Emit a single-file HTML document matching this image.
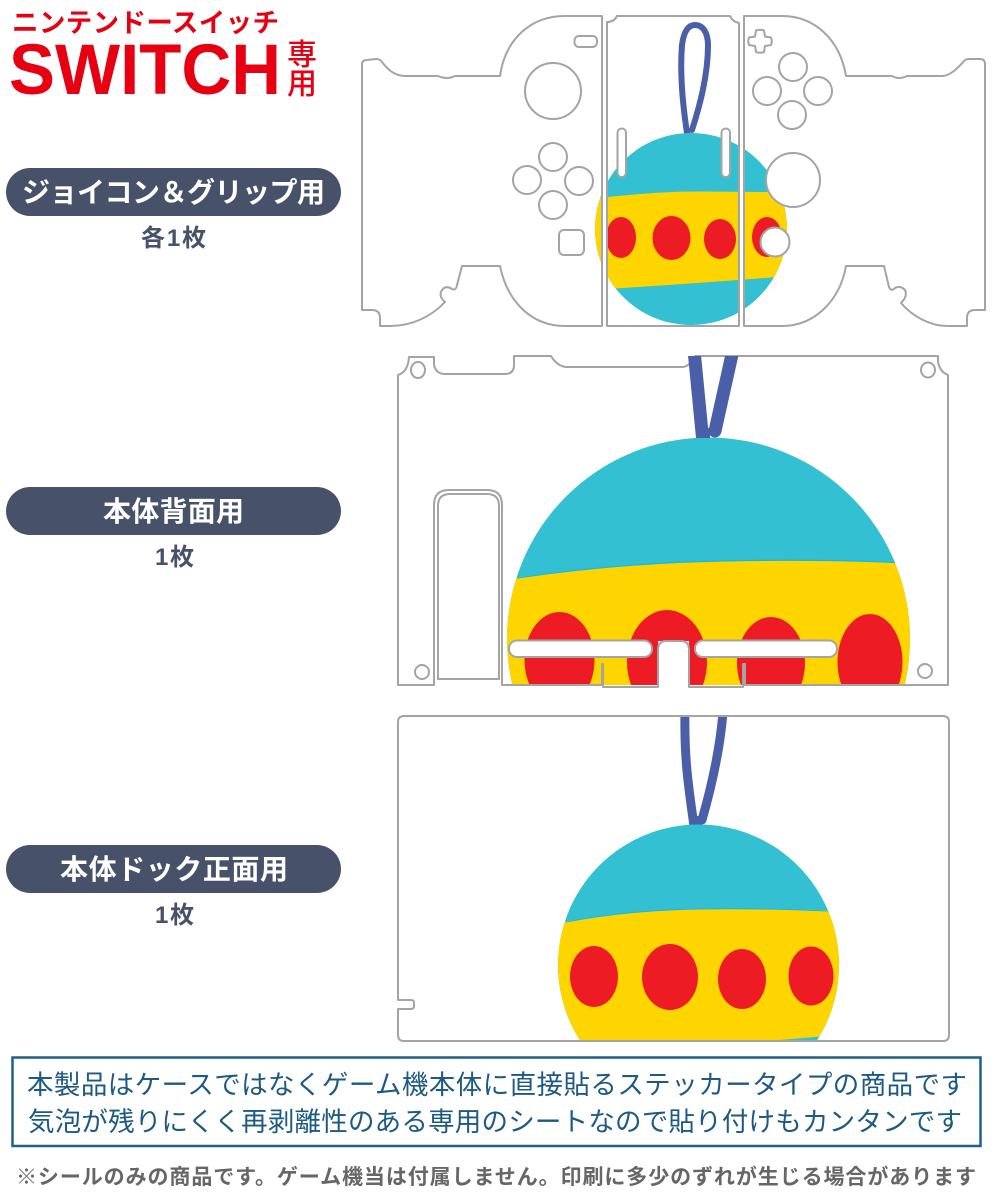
<!DOCTYPE html>
<html><head><meta charset="utf-8">
<style>
html,body{margin:0;padding:0;background:#fff;}
svg{display:block;}
text{font-family:"Liberation Sans","Noto Sans CJK JP",sans-serif;}
.o{fill:none;stroke:#a4a4a4;stroke-width:2;stroke-linejoin:round;}
.w{fill:#fff;stroke:#a4a4a4;stroke-width:2;}
.g{fill:none;stroke:#a4a4a4;stroke-width:2;}
.p{fill:#fff;font-weight:700;font-size:28px;}
.s{fill:#47526a;font-weight:700;font-size:24px;}
.b{fill:#1c5a84;font-size:26.5px;font-weight:400;}
</style></head>
<body>
<svg width="1000" height="1200" viewBox="0 0 1000 1200" xmlns="http://www.w3.org/2000/svg">
<defs>
<clipPath id="c1"><circle cx="691" cy="229" r="96"/></clipPath>
<clipPath id="c2"><path d="M400,356H948V685H400Z"/></clipPath>
<clipPath id="c2b"><circle cx="708.5" cy="639" r="201.5"/></clipPath>
<clipPath id="c3"><path d="M400,716H948V1041H400Z"/></clipPath>
<clipPath id="c3b"><circle cx="698.5" cy="965" r="140.5"/></clipPath>
</defs>
<rect width="1000" height="1200" fill="#fff"/>

<!-- header -->
<text x="12" y="32" font-size="26.500" font-weight="700" fill="#e60012" textLength="267" lengthAdjust="spacing">ニンテンドースイッチ</text>
<text x="9" y="94" font-size="71" font-weight="700" fill="#e60012" textLength="272" lengthAdjust="spacingAndGlyphs">SWITCH</text>
<text x="287" y="65" font-size="30" font-weight="500" fill="#e60012">専</text>
<text x="287" y="94" font-size="30" font-weight="500" fill="#e60012">用</text>

<!-- pills -->
<rect x="6" y="168" width="335" height="48" rx="24" fill="#47526a"/>
<text class="p" x="22" y="202" textLength="303" lengthAdjust="spacing">ジョイコン＆グリップ用</text>
<text class="s" x="141" y="246" textLength="65" lengthAdjust="spacing">各1枚</text>
<rect x="6" y="487" width="335" height="48" rx="24" fill="#47526a"/>
<text class="p" x="103" y="521" textLength="141" lengthAdjust="spacing">本体背面用</text>
<text class="s" x="155" y="565" textLength="39" lengthAdjust="spacing">1枚</text>
<rect x="6" y="845" width="335" height="48" rx="24" fill="#47526a"/>
<text class="p" x="60" y="879" textLength="228" lengthAdjust="spacing">本体ドック正面用</text>
<text class="s" x="155" y="923" textLength="39" lengthAdjust="spacing">1枚</text>

<!-- PANEL 1: joycon & grip -->
<path d="M687,133C682,100 680,70 682,45C684,30 689,25 695,25C703,25 708,33 708,45C708,75 700,105 692,130" fill="none" stroke="#4a5fa8" stroke-width="6" stroke-linecap="round"/>
<g clip-path="url(#c1)">
<rect x="590" y="130" width="200" height="200" fill="#33c0d2"/>
<path d="M590,199Q660,191 700,191.500T790,192V276Q690,284 590,290Z" fill="#ffd500"/>
<ellipse cx="621" cy="237.500" rx="15" ry="20.500" fill="#ed1c24"/>
<ellipse cx="671.500" cy="238" rx="19" ry="22" fill="#ed1c24"/>
<ellipse cx="720" cy="239" rx="16" ry="20" fill="#ed1c24"/>
<ellipse cx="767" cy="237" rx="15" ry="20" fill="#ed1c24"/>
</g>
<rect x="603" y="130" width="4" height="200" fill="#fff"/>
<rect x="740" y="130" width="4" height="200" fill="#fff"/>
<path class="o" d="M362,64Q362,60 367,60L376,59Q380,59 382,62C388,70 395,76 405,76L438,76Q447,80 455,76L500,76C505,40 530,16 565,16L602,16L602,326L565,326C530,326 507,300 500,266L462,266L457,285Q456,291 452,289Q446,285 442,290Q438,296 445,302C430,318 410,326 390,326L380,326L380,318Q380,310 372,310L362,310Z"/>
<path class="o" d="M607,22Q614,22 617,16L730,16Q733,22 739,23L739,326L607,326Z"/>
<path class="o" d="M744,16L782,16C815,16 840,40 846,76L892,76Q899,80 907,76L942,76C950,76 958,68 965,60Q967,59 970,59L980,59Q985,59 985,64L985,310L975,310Q967,310 967,318L967,326L947,326C930,326 912,316 901,303Q908,296 905,290Q900,285 895,288Q891,292 889,287L884,266L846,266C840,300 815,326 782,326L744,326Z"/>
<circle class="g" cx="553" cy="91" r="28"/>
<circle class="g" cx="553" cy="157" r="14"/>
<circle class="g" cx="527" cy="180" r="14"/>
<circle class="g" cx="579" cy="181" r="14"/>
<circle class="g" cx="553" cy="205" r="14"/>
<rect class="g" x="559" y="230" width="25" height="25" rx="5"/>
<rect class="g" x="574.500" y="36" width="22.500" height="11" rx="4.500"/>
<rect class="w" x="617.500" y="128.500" width="8.500" height="48.500" rx="4.200"/>
<rect class="w" x="721.500" y="128.500" width="8.500" height="48.500" rx="4.200"/>
<path class="g" d="M756,30.500Q760,29 764,30.500L765,36.500L771,37.500Q772.500,41 771,45L765,46L764,52Q760,53.500 756,52L755,46L749,45Q747.500,41 749,37.500L755,36.500Z"/>
<circle class="g" cx="793" cy="67" r="14"/>
<circle class="g" cx="767" cy="91" r="14"/>
<circle class="g" cx="818" cy="91" r="14"/>
<circle class="g" cx="792" cy="115" r="14"/>
<circle class="w" cx="793" cy="180" r="27"/>
<circle class="w" cx="775" cy="242" r="14.500"/>

<!-- PANEL 2: back -->
<g clip-path="url(#c2)"><g clip-path="url(#c2b)">
<rect x="500" y="430" width="420" height="260" fill="#33c0d2"/>
<path d="M500,579.500Q620,563 720,561T920,563V690H500Z" fill="#ffd500"/>
<path d="M517,578Q620,563 720,561T895,562.500" fill="none" stroke="#12b9e8" stroke-width="1.200"/>
<ellipse cx="559.500" cy="660" rx="35" ry="48" fill="#ed1c24"/>
<ellipse cx="667" cy="662" rx="40" ry="52" fill="#ed1c24"/>
<ellipse cx="771" cy="663" rx="34" ry="46" fill="#ed1c24"/>
<ellipse cx="870" cy="662" rx="32.500" ry="48" fill="#ed1c24"/>
</g></g>
<rect x="658" y="641" width="31" height="50" fill="#fff"/>
<path class="o" d="M398,375Q408,372 409,357L434,357L434,365Q436,374 445,374L505,374Q514,374 514,365L514,356L551,356Q557,366 566,367L683,367Q690,366 695,356L938,356L938,362Q940,372 948,375L948,685L745,685L745,664L743,664L743,687L689,687L689,650Q689,641 681,641L666,641Q658,641 658,650L658,687L603,687L603,664L602,664L602,685L502,685L502,505Q502,490 487,490L449,490Q434,490 434,505L434,685L398,685Z"/>
<path class="g" d="M438,679L438,506Q438,494 450,494L487,494Q499,494 499,506L499,679Z"/>
<rect class="w" x="509" y="640.500" width="143" height="16.500" rx="8"/>
<rect class="w" x="695" y="640.500" width="142" height="16.500" rx="8"/>
<ellipse class="g" cx="418" cy="370" rx="7" ry="8"/>
<circle class="g" cx="422" cy="672" r="7"/>
<ellipse class="g" cx="928" cy="370" rx="7" ry="7.500"/>
<circle class="g" cx="925" cy="671" r="7"/>
<g clip-path="url(#c2)">
<path d="M694,350L702.500,437.500" fill="none" stroke="#4a5fa8" stroke-width="13"/>
<path d="M733,350L715,431" fill="none" stroke="#4a5fa8" stroke-width="13" stroke-linecap="round"/>
<rect x="696" y="428" width="14" height="10" fill="#4a5fa8"/>
</g>

<!-- PANEL 3: dock -->
<g clip-path="url(#c3)">
<path d="M685,712C684,760 689,790 694,826" fill="none" stroke="#4a5fa8" stroke-width="9"/>
<path d="M723,712C720,750 712,785 702,820" fill="none" stroke="#4a5fa8" stroke-width="9" stroke-linecap="round"/>
<rect x="690" y="816" width="12" height="9" fill="#4a5fa8"/>
</g>
<g clip-path="url(#c3)"><g clip-path="url(#c3b)">
<rect x="550" y="820" width="300" height="225" fill="#33c0d2"/>
<path d="M550,924Q630,910 699,909T850,911V1034L768,1041L550,1045Z" fill="#ffd500"/>
<path d="M566,922Q630,910 699,909T828,911" fill="none" stroke="#12b9e8" stroke-width="1"/>
<ellipse cx="594" cy="976.500" rx="24" ry="30.500" fill="#ed1c24"/>
<ellipse cx="670" cy="977" rx="28" ry="33" fill="#ed1c24"/>
<ellipse cx="742" cy="979" rx="24" ry="30" fill="#ed1c24"/>
<ellipse cx="811" cy="976" rx="22.500" ry="29.500" fill="#ed1c24"/>
</g></g>
<path class="o" d="M404,716L943,716Q949,716 949,722L949,1035Q949,1041 943,1041L404,1041Q398,1041 398,1035L398,1009L411,1009Q414,1009 414,1006L414,1003Q414,1000 411,1000L398,1000L398,722Q398,716 404,716Z"/>

<!-- bottom box -->
<rect x="12.500" y="1057.500" width="968" height="88.500" fill="none" stroke="#1f5f8b" stroke-width="2.500"/>
<text class="b" x="27" y="1094" textLength="940" lengthAdjust="spacing">本製品はケースではなくゲーム機本体に直接貼るステッカータイプの商品です</text>
<text class="b" x="28" y="1131" textLength="934" lengthAdjust="spacing">気泡が残りにくく再剥離性のある専用のシートなので貼り付けもカンタンです</text>
<text x="16" y="1184" font-size="21" font-weight="700" fill="#666" textLength="960" lengthAdjust="spacing">※シールのみの商品です。ゲーム機当は付属しません。印刷に多少のずれが生じる場合があります</text>
</svg>
</body></html>
